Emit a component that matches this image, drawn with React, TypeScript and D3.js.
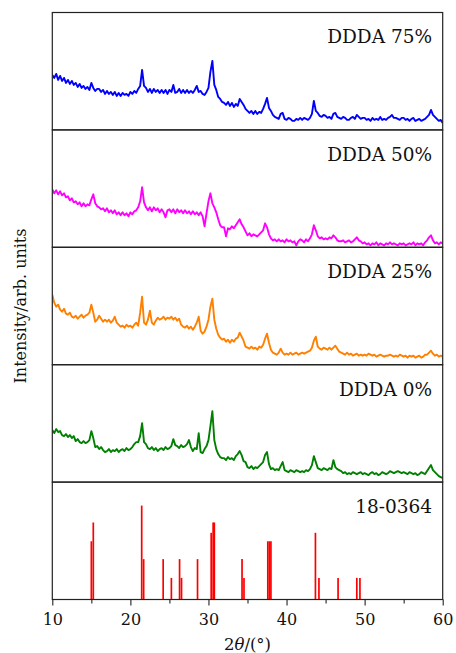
import { useEffect, useRef } from "react";
import * as d3 from "d3";

// scan grid: 10° .. 60° 2θ, step 0.25°
const twoTheta = d3.range(0, 201).map(i => 10 + i * 0.25);

// intensities (a.u.), one row per degree: d, d+.25, d+.5, d+.75
const ddda75 = [
  55, 52, 56, 50, 54, 49, 52, 47, 50, 46, 49, 45, 47, 43, 46, 42, 44, 41, 43, 40,
  47, 42, 39, 41, 41, 38, 40, 36, 39, 36, 38, 35, 38, 34, 37, 34, 37, 35, 36, 34,
  38, 36, 39, 37, 41, 44, 60, 44, 42, 38, 41, 37, 41, 38, 40, 37, 40, 37, 40, 36,
  40, 38, 45, 37, 38, 41, 37, 40, 37, 40, 37, 39, 37, 40, 44, 38, 39, 36, 35, 38,
  42, 58, 69, 45, 40, 33, 31, 28, 27, 25, 28, 24, 27, 23, 26, 24, 31, 28, 25, 21,
  19, 17, 19, 16, 19, 16, 18, 17, 21, 26, 32, 22, 19, 15, 13, 12, 11, 16, 17, 11,
  10, 12, 11, 9, 9, 11, 10, 12, 10, 12, 11, 10, 12, 16, 29, 19, 17, 14, 13, 15,
  14, 12, 13, 11, 16, 17, 13, 12, 11, 13, 12, 10, 10, 12, 13, 11, 15, 13, 11, 12,
  12, 10, 11, 9, 12, 10, 11, 10, 13, 10, 11, 10, 12, 13, 15, 12, 12, 11, 10, 12,
  12, 10, 11, 9, 11, 12, 9, 10, 11, 9, 10, 11, 13, 15, 20, 15, 13, 11, 9, 10,
  7,
];

const ddda50 = [
  58, 54, 57, 53, 56, 52, 54, 50, 51, 47, 49, 45, 46, 43, 45, 41, 44, 41, 43, 42,
  48, 53, 44, 41, 40, 38, 39, 36, 39, 35, 37, 34, 37, 33, 35, 32, 35, 32, 34, 31,
  35, 33, 36, 37, 40, 46, 60, 45, 40, 37, 40, 36, 40, 37, 39, 35, 38, 35, 30, 37,
  38, 35, 38, 34, 38, 35, 37, 34, 37, 34, 36, 33, 36, 33, 35, 32, 35, 31, 21, 34,
  46, 54, 44, 40, 35, 28, 22, 20, 20, 11, 19, 18, 21, 19, 22, 25, 28, 23, 20, 16,
  12, 14, 11, 13, 12, 11, 13, 15, 17, 24, 20, 13, 9, 7, 8, 6, 8, 6, 7, 5,
  8, 6, 7, 5, 6, 2, 6, 8, 7, 5, 8, 6, 9, 13, 22, 17, 11, 9, 10, 8,
  9, 8, 10, 9, 12, 10, 7, 6, 6, 7, 5, 6, 7, 5, 6, 8, 10, 7, 6, 4,
  5, 3, 4, 2, 4, 3, 5, 2, 4, 3, 2, 4, 3, 5, 3, 4, 3, 2, 4, 3,
  4, 2, 3, 4, 3, 5, 2, 4, 3, 4, 2, 5, 7, 10, 12, 7, 4, 5, 3, 5,
  4,
];

const ddda25 = [
  70, 62, 58, 60, 55, 53, 56, 51, 50, 52, 48, 47, 49, 46, 48, 50, 47, 49, 50, 52,
  60, 52, 43, 45, 49, 46, 43, 45, 43, 45, 42, 44, 48, 42, 40, 38, 39, 37, 40, 38,
  39, 37, 40, 42, 39, 52, 68, 42, 40, 45, 54, 42, 40, 44, 47, 45, 46, 48, 45, 47,
  46, 48, 45, 47, 44, 46, 40, 38, 37, 39, 36, 38, 35, 38, 42, 48, 34, 31, 33, 38,
  45, 58, 66, 45, 36, 30, 27, 25, 26, 23, 25, 22, 25, 23, 26, 27, 32, 28, 24, 18,
  17, 16, 18, 16, 17, 15, 18, 17, 20, 26, 31, 22, 15, 12, 11, 10, 12, 16, 12, 10,
  11, 10, 12, 10, 11, 12, 10, 11, 12, 11, 12, 13, 14, 17, 24, 28, 18, 16, 15, 17,
  16, 15, 17, 15, 17, 19, 16, 13, 12, 11, 10, 12, 10, 11, 9, 10, 11, 9, 10, 9,
  10, 9, 11, 10, 9, 10, 8, 9, 10, 9, 8, 9, 9, 10, 9, 8, 9, 8, 10, 9,
  8, 9, 7, 9, 8, 9, 7, 8, 9, 7, 8, 10, 10, 12, 14, 11, 9, 10, 8, 9,
  8,
];

const ddda0 = [
  52, 49, 53, 50, 51, 47, 46, 48, 45, 47, 44, 46, 41, 43, 40, 39, 41, 39, 40, 42,
  51, 44, 35, 36, 33, 35, 32, 30, 31, 33, 30, 32, 31, 33, 30, 32, 33, 31, 34, 32,
  33, 35, 38, 40, 40, 46, 59, 40, 38, 34, 33, 35, 32, 34, 31, 33, 34, 32, 35, 33,
  34, 36, 43, 37, 36, 34, 37, 35, 36, 38, 42, 35, 31, 34, 33, 49, 30, 29, 33, 36,
  42, 56, 71, 42, 33, 28, 25, 24, 24, 22, 25, 23, 24, 22, 26, 28, 31, 27, 21, 20,
  15, 14, 16, 13, 15, 14, 16, 18, 20, 27, 30, 18, 13, 14, 12, 13, 12, 16, 20, 12,
  11, 10, 12, 11, 10, 12, 11, 10, 11, 10, 12, 11, 13, 17, 26, 20, 14, 13, 12, 14,
  13, 12, 14, 13, 22, 15, 13, 12, 11, 9, 10, 8, 9, 8, 10, 9, 8, 9, 10, 8,
  9, 8, 7, 9, 10, 8, 9, 7, 8, 10, 9, 8, 9, 11, 10, 9, 10, 11, 10, 9,
  10, 9, 8, 10, 9, 8, 9, 7, 8, 10, 9, 8, 11, 14, 17, 12, 10, 8, 6, 5,
  4,
];

// PDF card 18-0364 stick pattern
const refPos = [15.0, 15.25, 21.45, 21.7, 24.2, 25.25, 26.3, 26.55, 28.6, 30.35, 30.6, 30.75,
  34.3, 34.55, 37.6, 37.8, 38.0, 43.7, 44.15, 46.6, 49.0, 49.4];
const refInt = [62, 82, 100, 43, 43, 23, 43, 23, 43, 71, 82, 82,
  43, 23, 62, 62, 62, 71, 23, 23, 23, 23];

const series = [
  { label: "DDDA 75%", color: "#0000ff", values: ddda75 },
  { label: "DDDA 50%", color: "#ff00ff", values: ddda50 },
  { label: "DDDA 25%", color: "#ff8000", values: ddda25 },
  { label: "DDDA 0%", color: "#008000", values: ddda0 },
];

const xTicks = [10, 20, 30, 40, 50, 60];
const xMinor = [15, 25, 35, 45, 55];

export default function App() {
  const ref = useRef<SVGSVGElement | null>(null);

  useEffect(() => {
    if (!ref.current) return;
    const width = 456;
    const height = 653;
    const left = 52.3, right = 442.7, top = 12.5, bottom = 599.5;
    const nPanels = series.length + 1;
    const ph = (bottom - top) / nPanels;
    const font = "DejaVu Serif";

    const svg = d3.select(ref.current)
      .attr("width", width)
      .attr("height", height)
      .attr("viewBox", `0 0 ${width} ${height}`);
    svg.selectAll("*").remove();

    const x = d3.scaleLinear().domain([10, 60]).range([left, right]);

    const defs = svg.append("defs");

    series.forEach((s, i) => {
      const y0 = top + i * ph;
      const y = d3.scaleLinear().domain([0, ph]).range([y0 + ph, y0]);
      defs.append("clipPath").attr("id", `clip${i}`)
        .append("rect").attr("x", left).attr("y", y0).attr("width", right - left).attr("height", ph);

      const line = d3.line<number>()
        .x((_, k) => x(twoTheta[k]))
        .y(d => y(d));

      svg.append("path")
        .datum(s.values)
        .attr("clip-path", `url(#clip${i})`)
        .attr("fill", "none")
        .attr("stroke", s.color)
        .attr("stroke-width", 1.9)
        .attr("stroke-linejoin", "round")
        .attr("d", line);

      svg.append("text")
        .attr("x", 432)
        .attr("y", y0 + 30.8)
        .attr("text-anchor", "end")
        .attr("font-family", font)
        .attr("font-size", 18.5)
        .attr("fill", "#111")
        .text(s.label);
    });

    // reference card panel
    const r0 = top + series.length * ph;
    const yr = d3.scaleLinear().domain([0, 125]).range([r0 + ph, r0]);
    svg.selectAll(".stick")
      .data(refPos)
      .enter()
      .append("line")
      .attr("x1", d => x(d))
      .attr("x2", d => x(d))
      .attr("y1", yr(0))
      .attr("y2", (_, k) => yr(refInt[k]))
      .attr("stroke", "#ff0000")
      .attr("stroke-width", 1.7);

    svg.append("text")
      .attr("x", 432)
      .attr("y", r0 + 30.5)
      .attr("text-anchor", "end")
      .attr("font-family", font)
      .attr("font-size", 18.5)
      .attr("fill", "#111")
      .text("18-0364");

    // panel frames
    for (let i = 0; i < nPanels; i++) {
      svg.append("rect")
        .attr("x", left)
        .attr("y", top + i * ph)
        .attr("width", right - left)
        .attr("height", ph)
        .attr("fill", "none")
        .attr("stroke", "#222")
        .attr("stroke-width", 1.2);
    }

    // x axis
    const gx = svg.append("g")
      .attr("transform", `translate(0,${bottom})`)
      .call(d3.axisBottom(x).tickValues(xTicks).tickSize(6).tickPadding(8).tickSizeOuter(0).tickFormat(d3.format("d")));
    gx.select(".domain").remove();
    gx.selectAll(".tick line").attr("stroke", "#222").attr("stroke-width", 1.1);
    gx.selectAll(".tick text")
      .attr("font-family", font)
      .attr("font-size", 16)
      .attr("fill", "#111");

    const gm = svg.append("g")
      .attr("transform", `translate(0,${bottom})`)
      .call(d3.axisBottom(x).tickValues(xMinor).tickSize(4).tickFormat(() => ""));
    gm.select(".domain").remove();
    gm.selectAll(".tick line").attr("stroke", "#222").attr("stroke-width", 1.1);

    // axis titles
    const xl = svg.append("text")
      .attr("x", (left + right) / 2)
      .attr("y", 650)
      .attr("text-anchor", "middle")
      .attr("font-family", font)
      .attr("font-size", 16.5)
      .attr("fill", "#111");
    xl.append("tspan").text("2");
    xl.append("tspan").attr("font-style", "italic").text("θ");
    xl.append("tspan").text("/(°)");

    svg.append("text")
      .attr("transform", `translate(26,${(top + bottom) / 2}) rotate(-90)`)
      .attr("text-anchor", "middle")
      .attr("font-family", font)
      .attr("font-size", 16)
      .attr("fill", "#111")
      .text("Intensity/arb. units");
  }, []);

  return <svg ref={ref} style={{ position: "absolute", left: 0, top: 0, background: "#fff" }} />;
}
